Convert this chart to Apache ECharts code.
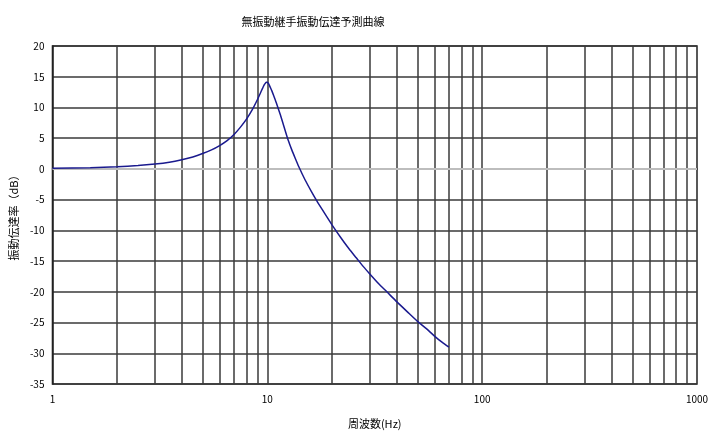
<!DOCTYPE html>
<html>
<head>
<meta charset="utf-8">
<script src="https://cdn.jsdelivr.net/npm/echarts@6/dist/echarts.min.js"></script>
<style>html,body{margin:0;padding:0;background:#fff}#c{width:712px;height:436px}</style>
</head>
<body>
<div id="c"></div>
<script>
var titleText = '無振動継手振動伝達予測曲線';
var xName = '周波数(Hz)';
var yName = '振動伝達率（dB）';
var freq = [1, 1.5, 2, 2.5, 3, 3.5, 4, 4.5, 5, 5.5, 6, 6.5, 7, 7.5, 8, 8.5, 9, 9.3, 9.5, 9.6, 9.7, 9.8, 9.9, 10, 10.1, 10.2, 10.3, 10.5, 10.7, 11, 11.5, 12, 12.5, 13, 13.5, 14, 15, 16, 17, 18, 19, 20, 22, 24, 26, 28, 30, 33, 36, 40, 45, 50, 55, 60, 65, 70];
var db = [0.1, 0.2, 0.35, 0.55, 0.8, 1.1, 1.5, 1.95, 2.5, 3.1, 3.8, 4.6, 5.6, 6.8, 8.1, 9.6, 11.3, 12.4, 13.1, 13.45, 13.75, 13.95, 14.1, 14.1, 13.95, 13.7, 13.35, 12.7, 11.95, 10.8, 8.8, 6.7, 4.7, 3.1, 1.7, 0.4, -1.8, -3.6, -5.2, -6.6, -7.9, -9.1, -11.2, -13.0, -14.5, -15.9, -17.1, -18.7, -20.0, -21.6, -23.3, -24.8, -26.0, -27.2, -28.2, -29.0];
var xMinorGrid = [2, 3, 4, 5, 6, 7, 8, 9, 10, 20, 30, 40, 50, 60, 70, 80, 90, 100, 200, 300, 400, 500, 600, 700, 800, 900];
var xTickLabels = [1, 10, 100, 1000];
var yMin = -35, yMax = 20, yStep = 5;

var font = '"Noto Sans CJK JP", "Liberation Sans", sans-serif';
var gridColor = '#3a3a3a';
var chart = echarts.init(document.getElementById('c'), null, {renderer: 'canvas'});
var curve = freq.map(function (f, i) { return [f, db[i]]; });
chart.setOption({
  animation: false,
  backgroundColor: '#fff',
  title: {
    text: titleText, left: 308, top: 11, textAlign: 'center',
    textStyle: {fontFamily: font, fontSize: 11, fontWeight: 'normal', color: '#000'}
  },
  grid: {left: 52, right: 15, top: 46, bottom: 52, show: true, borderColor: '#222', borderWidth: 1.5},
  xAxis: {
    type: 'log', logBase: 10, min: 1, max: 1000,
    name: xName, nameLocation: 'middle', nameGap: 34,
    nameTextStyle: {fontFamily: font, fontSize: 11, color: '#000'},
    axisLine: {show: true, lineStyle: {color: '#222', width: 1.5}},
    axisTick: {show: false},
    splitLine: {show: false},
    axisLabel: {
      fontFamily: font, fontSize: 10, color: '#000', margin: 10,
      formatter: function (v) { return xTickLabels.indexOf(Math.round(v)) >= 0 ? String(Math.round(v)) : ''; }
    }
  },
  yAxis: {
    type: 'value', min: yMin, max: yMax, interval: yStep,
    name: yName, nameLocation: 'middle', nameGap: 32, nameRotate: 90,
    nameTextStyle: {fontFamily: font, fontSize: 11, color: '#000'},
    axisLine: {show: true, lineStyle: {color: '#222', width: 1.5}},
    axisTick: {show: false},
    splitLine: {show: true, lineStyle: {color: gridColor, width: 1.5}},
    axisLabel: {fontFamily: font, fontSize: 10, color: '#000', margin: 8}
  },
  series: [
    {
      type: 'line', data: [], silent: true, z: 1,
      markLine: {
        silent: true, symbol: 'none', animation: false,
        label: {show: false},
        lineStyle: {color: gridColor, width: 1.5, type: 'solid'},
        data: xMinorGrid.map(function (v) { return {xAxis: v}; })
      }
    },
    {
      type: 'line', data: [], silent: true, z: 2,
      markLine: {
        silent: true, symbol: 'none', animation: false,
        label: {show: false},
        lineStyle: {color: '#bdbdbd', width: 2, type: 'solid'},
        data: [{yAxis: 0}]
      }
    },
    {
      type: 'line', data: curve, z: 5, showSymbol: false, smooth: 0.2,
      lineStyle: {color: '#1a1a8e', width: 1.5}
    }
  ]
});
</script>
</body>
</html>
